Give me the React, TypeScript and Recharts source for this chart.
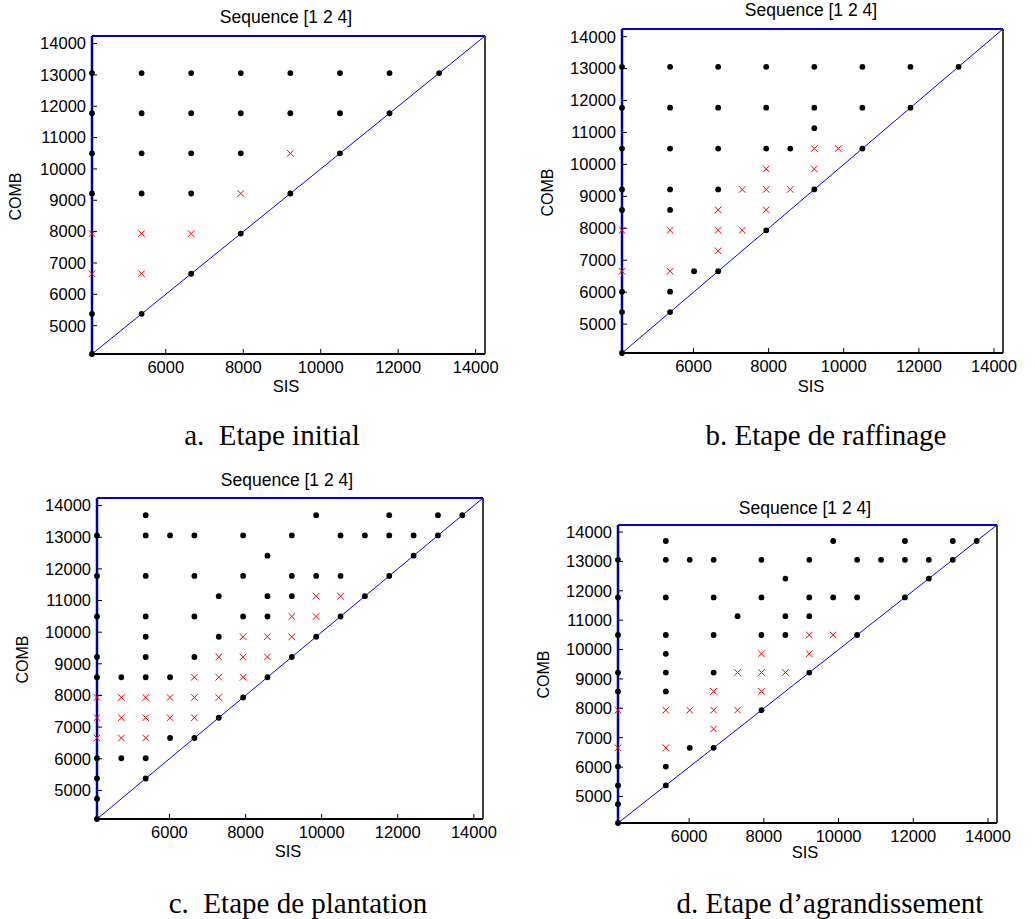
import React from 'react';
import { ScatterChart, Scatter, XAxis, YAxis } from 'recharts';

// ---------- data ----------
const X_DOMAIN: [number, number] = [4096, 14240];
const Y_DOMAIN: [number, number] = [4096, 14240];
const X_TICKS = [6000, 8000, 10000, 12000, 14000];
const Y_TICKS = [5000, 6000, 7000, 8000, 9000, 10000, 11000, 12000, 13000, 14000];
const TITLE = 'Sequence [1 2 4]';
const X_LABEL = 'SIS';
const Y_LABEL = 'COMB';
const CAPTIONS = [
  'a.  Etape initial',
  'b. Etape de raffinage',
  'c.  Etape de plantation',
  'd. Etape d\u2019agrandissement',
];

// rows: [COMB value, SIS values]
type Row = [number, number[]];

const A_BLACK: Row[] = [
  [13056, [4096, 5376, 6656, 7936, 9216, 10496, 11776, 13056]],
  [11776, [4096, 5376, 6656, 7936, 9216, 10496, 11776]],
  [10496, [4096, 5376, 6656, 7936, 10496]],
  [9216, [4096, 5376, 6656, 9216]],
  [7936, [7936]],
  [6656, [6656]],
  [5376, [4096, 5376]],
  [4096, [4096]],
];
const A_RED: Row[] = [
  [10496, [9216]],
  [9216, [7936]],
  [7936, [4096, 5376, 6656]],
  [6656, [4096, 5376]],
];

const B_BLACK: Row[] = [
  [13056, [4096, 5376, 6656, 7936, 9216, 10496, 11776, 13056]],
  [11776, [4096, 5376, 6656, 7936, 9216, 10496, 11776]],
  [11136, [9216]],
  [10496, [4096, 5376, 6656, 7936, 8576, 10496]],
  [9216, [4096, 5376, 6656, 9216]],
  [8576, [4096, 5376]],
  [7936, [7936]],
  [6656, [6016, 6656]],
  [6016, [4096, 5376]],
  [5376, [4096, 5376]],
  [4096, [4096]],
];
const B_RED: Row[] = [
  [10496, [9216, 9856]],
  [9856, [7936, 9216]],
  [9216, [7296, 7936, 8576]],
  [8576, [6656, 7936]],
  [7936, [4096, 5376, 6656, 7296]],
  [7296, [6656]],
  [6656, [4096, 5376]],
];

const C_BLACK: Row[] = [
  [13696, [5376, 9856, 11776, 13056, 13696]],
  [13056, [4096, 5376, 6016, 6656, 7936, 9216, 10496, 11136, 11776, 12416, 13056]],
  [12416, [8576, 12416]],
  [11776, [4096, 5376, 6656, 7936, 9216, 9856, 10496, 11776]],
  [11136, [7296, 8576, 9216, 11136]],
  [10496, [4096, 5376, 6656, 7936, 8576, 10496]],
  [9856, [5376, 7296, 9856]],
  [9216, [4096, 5376, 6656, 9216]],
  [8576, [4096, 4736, 5376, 6016, 8576]],
  [7936, [7936]],
  [7296, [7296]],
  [6656, [6016, 6656]],
  [6016, [4096, 4736, 5376]],
  [5376, [4096, 5376]],
  [4736, [4096]],
  [4096, [4096]],
];
const C_RED: Row[] = [
  [11136, [9856, 10496]],
  [10496, [9216, 9856]],
  [9856, [7936, 8576, 9216]],
  [9216, [7296, 7936, 8576]],
  [8576, [6656, 7296, 7936]],
  [7936, [4096, 4736, 5376, 6016, 6656, 7296]],
  [7296, [4096, 4736, 5376, 6016, 6656]],
  [6656, [4096, 4736, 5376]],
];

const D_BLACK: Row[] = [
  [13696, [5376, 9856, 11776, 13056, 13696]],
  [13056, [4096, 5376, 6016, 6656, 7936, 9216, 10496, 11136, 11776, 12416, 13056]],
  [12416, [8576, 12416]],
  [11776, [4096, 5376, 6656, 7936, 9216, 9856, 10496, 11776]],
  [11136, [7296, 8576, 9216]],
  [10496, [4096, 5376, 6656, 7936, 8576, 10496]],
  [9856, [5376]],
  [9216, [4096, 5376, 6656, 9216]],
  [8576, [4096, 5376]],
  [7936, [7936]],
  [6656, [6016, 6656]],
  [6016, [4096, 5376]],
  [5376, [4096, 5376]],
  [4736, [4096]],
  [4096, [4096]],
];
const D_RED: Row[] = [
  [10496, [9216, 9856]],
  [9856, [7936, 9216]],
  [9216, [7296, 7936, 8576]],
  [8576, [6656, 7936]],
  [7936, [4096, 5376, 6016, 6656, 7296]],
  [7296, [6656]],
  [6656, [4096, 5376]],
];

// blue reference lines (diagonal, left edge, top edge)
const DIAGONAL = [
  { x: 4096, y: 4096 },
  { x: 14240, y: 14240 },
];
const LEFT_EDGE = [
  { x: 4096, y: 4096 },
  { x: 4096, y: 14240 },
];
const TOP_EDGE = [
  { x: 4096, y: 14240 },
  { x: 14240, y: 14240 },
];

// ---------- layout ----------
type Panel = {
  left: number; top: number; w: number; h: number;
  m: { top: number; right: number; bottom: number; left: number };
  title: [number, number]; xl: [number, number]; yl: [number, number]; cap: [number, number];
  black: Row[]; red: Row[]; caption: string;
};

// margins are measured to the plot edges; each axis takes 1px of it
const PANELS: Panel[] = [
  { left: 0, top: 0, w: 500, h: 400, m: { top: 35, right: 14, bottom: 45, left: 91 },
    title: [286, 17], xl: [286, 387], yl: [16, 197], cap: [272, 435], black: A_BLACK, red: A_RED, caption: CAPTIONS[0] },
  { left: 500, top: 0, w: 535, h: 400, m: { top: 28, right: 31, bottom: 46, left: 121 },
    title: [811, 10], xl: [811, 387], yl: [548, 193], cap: [826, 435], black: B_BLACK, red: B_RED, caption: CAPTIONS[1] },
  { left: 0, top: 460, w: 500, h: 400, m: { top: 37, right: 16, bottom: 40, left: 96 },
    title: [287, 480], xl: [288, 852], yl: [23, 660], cap: [298, 903], black: C_BLACK, red: C_RED, caption: CAPTIONS[2] },
  { left: 500, top: 460, w: 535, h: 400, m: { top: 64, right: 37, bottom: 36, left: 117 },
    title: [805, 508], xl: [805, 853], yl: [544, 675], cap: [830, 903], black: D_BLACK, red: D_RED, caption: CAPTIONS[3] },
];

const flatten = (rows: Row[]) =>
  rows.flatMap(([y, xs]) => xs.map((x) => ({ x, y })));

const BlackDot = (p: any) => <circle cx={p.cx} cy={p.cy} r={2.9} fill="#000" />;
const RedCross = (p: any) => {
  const s = 3.3;
  return (
    <g stroke="#ff0000" strokeWidth={1}>
      <line x1={p.cx - s} y1={p.cy - s} x2={p.cx + s} y2={p.cy + s} />
      <line x1={p.cx - s} y1={p.cy + s} x2={p.cx + s} y2={p.cy - s} />
    </g>
  );
};
const NoShape = () => <g />;

const SANS = '"Liberation Sans", Arial, sans-serif';
const tickStyle = { fill: '#000', fontSize: 16.5, fontFamily: SANS };

const Text = ({ cx, cy, text, size, family, rotate }: any) => (
  <div
    style={{
      position: 'absolute',
      left: cx - 250,
      top: cy - size * 0.6,
      width: 500,
      height: size * 1.2,
      lineHeight: `${size * 1.2}px`,
      textAlign: 'center',
      fontSize: size,
      fontFamily: family,
      whiteSpace: 'pre',
      color: '#000',
      transform: rotate ? `rotate(${rotate}deg)` : undefined,
    }}
  >
    {text}
  </div>
);

const ChartPanel = ({ p }: { p: Panel }) => (
  <>
    <div style={{ position: 'absolute', left: p.left, top: p.top, width: p.w, height: p.h }}>
      <ScatterChart width={p.w} height={p.h} margin={p.m}>
        <XAxis
          type="number" dataKey="x" domain={X_DOMAIN} ticks={X_TICKS}
          height={1} tick={tickStyle} tickSize={-5} tickMargin={12}
          axisLine={{ stroke: '#000', strokeWidth: 2 }} tickLine={{ stroke: '#000' }}
        />
        <XAxis
          xAxisId="top" orientation="top" type="number" dataKey="x" domain={X_DOMAIN} ticks={X_TICKS}
          height={1} tick={false} tickSize={-5}
          axisLine={false} tickLine={{ stroke: '#000' }}
        />
        <YAxis
          type="number" dataKey="y" domain={Y_DOMAIN} ticks={Y_TICKS}
          width={1} tick={tickStyle} tickSize={-5} tickMargin={11}
          axisLine={false} tickLine={{ stroke: '#000' }}
        />
        <YAxis
          yAxisId="right" orientation="right" type="number" dataKey="y" domain={Y_DOMAIN} ticks={Y_TICKS}
          width={1} tick={false} tickSize={-5}
          axisLine={{ stroke: '#000', strokeWidth: 1.5 }} tickLine={{ stroke: '#000' }}
        />
        <Scatter
          xAxisId="top" yAxisId="right" data={DIAGONAL} line={{ stroke: '#0000ff', strokeWidth: 1 }}
          shape={NoShape} isAnimationActive={false}
        />
        <Scatter data={TOP_EDGE} line={{ stroke: '#0000c8', strokeWidth: 2 }} shape={NoShape} isAnimationActive={false} />
        <Scatter data={LEFT_EDGE} line={{ stroke: '#0000a0', strokeWidth: 2.5 }} shape={NoShape} isAnimationActive={false} />
        <Scatter data={flatten(p.red)} shape={RedCross} isAnimationActive={false} />
        <Scatter data={flatten(p.black)} shape={BlackDot} isAnimationActive={false} />
      </ScatterChart>
    </div>
    <Text cx={p.title[0]} cy={p.title[1]} text={TITLE} size={17.5} family={SANS} />
    <Text cx={p.xl[0]} cy={p.xl[1]} text={X_LABEL} size={16.5} family={SANS} />
    <Text cx={p.yl[0]} cy={p.yl[1]} text={Y_LABEL} size={16} family={SANS} rotate={-90} />
    <Text cx={p.cap[0]} cy={p.cap[1]} text={p.caption} size={29} family={'"Liberation Serif", "Times New Roman", serif'} />
  </>
);

export default function App() {
  return (
    <div style={{ position: 'absolute', left: 0, top: 0, width: 1035, height: 919, background: '#fff', overflow: 'hidden' }}>
      {PANELS.map((p, i) => (
        <ChartPanel key={i} p={p} />
      ))}
    </div>
  );
}
